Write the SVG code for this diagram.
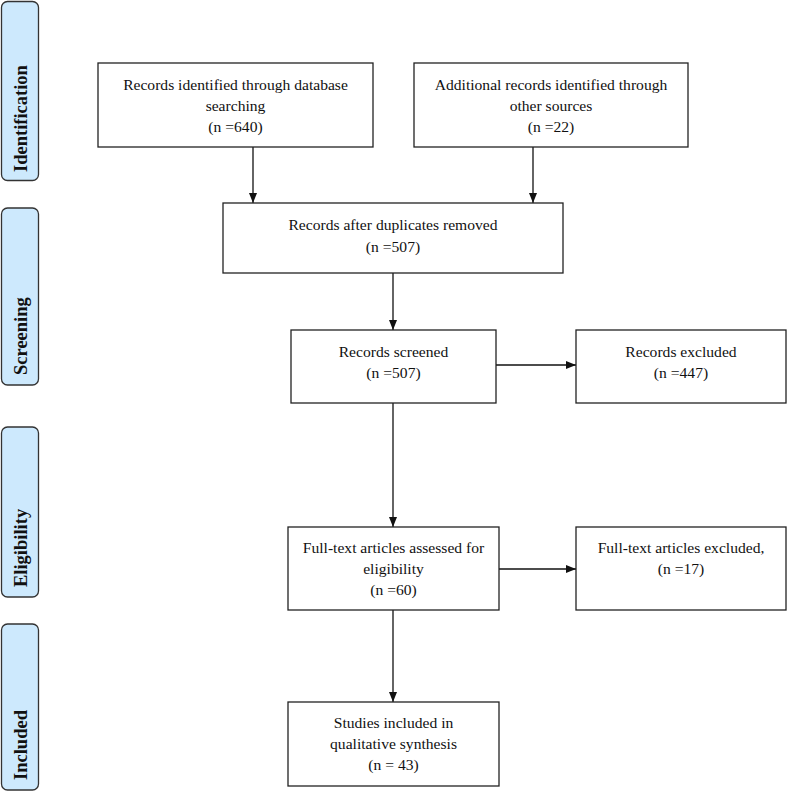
<svg xmlns="http://www.w3.org/2000/svg" width="787" height="794" viewBox="0 0 787 794">
<style>
.bg{fill:#ffffff}
.box{fill:#ffffff;stroke:#222;stroke-width:1.3}
.bar{fill:#cde9fd;stroke:#333;stroke-width:1.3}
.t{font-family:"Liberation Serif","Times New Roman",serif;font-size:15.6px;fill:#111;text-anchor:middle}
.bt{font-family:"Liberation Serif","Times New Roman",serif;font-size:18.5px;font-weight:bold;fill:#111;text-anchor:start}
.c{stroke:#111;stroke-width:1.3;fill:none;marker-end:url(#ah)}
</style>
<defs>
<marker id="ah" markerWidth="10" markerHeight="8" refX="10" refY="4" orient="auto" markerUnits="userSpaceOnUse">
<path d="M0,0 L10,4 L0,8 Z" fill="#111"/>
</marker>
</defs>
<rect class="bg" x="0" y="0" width="787" height="794"/>

<g id="stage-identification">
<rect class="bar" x="1.5" y="1.5" width="37" height="179" rx="6"/>
<text class="bt" x="27" y="172" transform="rotate(-90 27 172)">Identification</text>
</g>
<g id="stage-screening">
<rect class="bar" x="1.5" y="208" width="37" height="177" rx="6"/>
<text class="bt" x="27" y="375" transform="rotate(-90 27 375)">Screening</text>
</g>
<g id="stage-eligibility">
<rect class="bar" x="1.5" y="427" width="37" height="170" rx="6"/>
<text class="bt" x="27" y="587" transform="rotate(-90 27 587)">Eligibility</text>
</g>
<g id="stage-included">
<rect class="bar" x="1.5" y="624" width="37" height="166" rx="6"/>
<text class="bt" x="27" y="780" transform="rotate(-90 27 780)">Included</text>
</g>

<g id="connectors">
<line class="c" x1="253" y1="147" x2="253" y2="203"/>
<line class="c" x1="533" y1="147" x2="533" y2="203"/>
<line class="c" x1="393" y1="273" x2="393" y2="330"/>
<line class="c" x1="496" y1="365" x2="576" y2="365"/>
<line class="c" x1="393" y1="403" x2="393" y2="527"/>
<line class="c" x1="499" y1="569" x2="576" y2="569"/>
<line class="c" x1="393" y1="610" x2="393" y2="702"/>
</g>

<g id="n-db">
<rect class="box" x="98" y="63" width="275" height="84"/>
<text class="t" x="235.5" y="90">Records identified through database</text>
<text class="t" x="235.5" y="111">searching</text>
<text class="t" x="235.5" y="132">(n =640)</text>
</g>
<g id="n-other">
<rect class="box" x="414" y="63" width="274" height="84"/>
<text class="t" x="551" y="90">Additional records identified through</text>
<text class="t" x="551" y="111">other sources</text>
<text class="t" x="551" y="132">(n =22)</text>
</g>
<g id="n-dedup">
<rect class="box" x="223" y="203" width="340" height="70"/>
<text class="t" x="393" y="230">Records after duplicates removed</text>
<text class="t" x="393" y="252">(n =507)</text>
</g>
<g id="n-screened">
<rect class="box" x="291" y="330" width="205" height="73"/>
<text class="t" x="393.5" y="357">Records screened</text>
<text class="t" x="393.5" y="378">(n =507)</text>
</g>
<g id="n-excluded">
<rect class="box" x="576" y="330" width="210" height="73"/>
<text class="t" x="681" y="357">Records excluded</text>
<text class="t" x="681" y="378">(n =447)</text>
</g>
<g id="n-fulltext">
<rect class="box" x="288" y="527" width="211" height="83"/>
<text class="t" x="393.5" y="553">Full-text articles assessed for</text>
<text class="t" x="393.5" y="574">eligibility</text>
<text class="t" x="393.5" y="595">(n =60)</text>
</g>
<g id="n-ftexcluded">
<rect class="box" x="576" y="527" width="210" height="83"/>
<text class="t" x="681" y="553">Full-text articles excluded,</text>
<text class="t" x="681" y="574">(n =17)</text>
</g>
<g id="n-included">
<rect class="box" x="288" y="702" width="211" height="84"/>
<text class="t" x="393.5" y="728">Studies included in</text>
<text class="t" x="393.5" y="749">qualitative synthesis</text>
<text class="t" x="393.5" y="770">(n = 43)</text>
</g>
</svg>
